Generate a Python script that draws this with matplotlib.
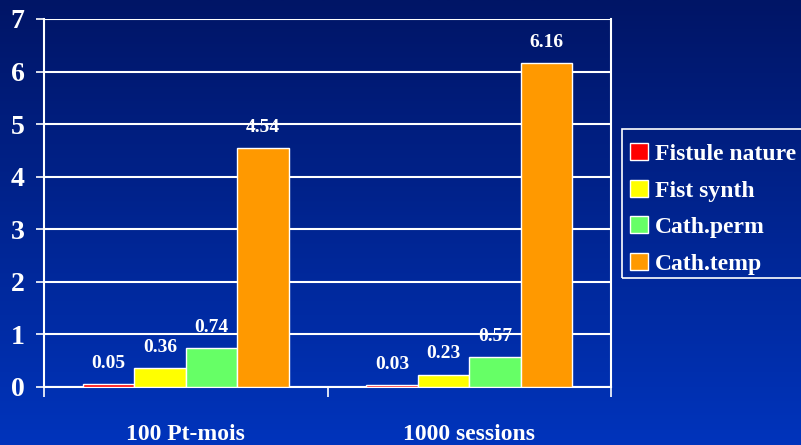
import numpy as np
import matplotlib
matplotlib.use("Agg")
import matplotlib.pyplot as plt
from matplotlib.colors import LinearSegmentedColormap
from matplotlib.patches import Rectangle

categories = ["100 Pt-mois", "1000 sessions"]
series = ["Fistule nature", "Fist synth", "Cath.perm", "Cath.temp"]
values = [
    [0.05, 0.03],
    [0.36, 0.23],
    [0.74, 0.57],
    [4.54, 6.16],
]
colors = ["#FF0000", "#FFFF00", "#66FF66", "#FF9900"]

plt.rcParams["font.family"] = ["Liberation Serif", "DejaVu Serif"]
plt.rcParams["font.weight"] = "bold"

fig = plt.figure(figsize=(8.01, 4.45), dpi=100)

# blue gradient background
bg = fig.add_axes([0, 0, 1, 1], zorder=-10)
cmap = LinearSegmentedColormap.from_list("bg", ["#001566", "#0034BC"])
bg.imshow(np.linspace(0, 1, 256).reshape(-1, 1), aspect="auto", cmap=cmap,
          extent=[0, 1, 0, 1], origin="upper")
bg.set_axis_off()

ax = fig.add_axes([44 / 801, 1 - 387 / 445, (611 - 44) / 801, (387 - 19) / 445])
ax.set_facecolor("none")

x = np.arange(len(categories))
width = 0.182
for i, (name, vals) in enumerate(zip(series, values)):
    pos = x + (i - 1.5) * width
    bars = ax.bar(pos, vals, width, color=colors[i], edgecolor="white",
                  linewidth=1, label=name, zorder=3)
    for b, v in zip(bars, vals):
        ax.annotate(f"{v:.2f}", (b.get_x() + b.get_width() / 2, v),
                    xytext=(0, 9), textcoords="offset points",
                    ha="center", va="bottom", color="white",
                    fontsize=14, fontweight="bold")

ax.set_xlim(-0.5, 1.5)
ax.set_ylim(0, 7)
ax.set_yticks(range(8))
ax.yaxis.grid(True, color="white", linewidth=1.5, zorder=0)
ax.set_axisbelow(True)

ax.set_xticks([-0.5, 0.5, 1.5])
ax.set_xticklabels([])
ax.set_xticks(x, minor=True)
ax.set_xticklabels(categories, minor=True)
ax.tick_params(axis="x", which="major", length=7.5, width=1.2, color="white")
ax.tick_params(axis="x", which="minor", length=0, pad=26.5, labelsize=17,
               labelcolor="white")
ax.tick_params(axis="y", length=6, width=1.2, color="white", pad=8,
               labelsize=20, labelcolor="white")

for side in ["left", "right", "bottom"]:
    ax.spines[side].set_color("white")
    ax.spines[side].set_linewidth(1.5)
ax.spines["top"].set_visible(False)

# legend without its own frame; box drawn separately so it runs off the edge
leg = fig.legend(loc="upper left", bbox_to_anchor=(621 / 801, 1 - 133.7 / 445),
                 bbox_transform=fig.transFigure, borderaxespad=0,
                 fontsize=17, frameon=False,
                 handlelength=0.75, handleheight=0.75, handletextpad=0.3,
                 labelspacing=0.62, borderpad=0.4)
for t in leg.get_texts():
    t.set_color("white")
for h in leg.legend_handles:
    h.set_edgecolor("white")

fig.patches.append(Rectangle((622 / 801, 1 - 278 / 445), 190 / 801, 149 / 445,
                             transform=fig.transFigure, fill=False,
                             edgecolor="white", linewidth=1.2))

fig.savefig("out.png", dpi=100)
